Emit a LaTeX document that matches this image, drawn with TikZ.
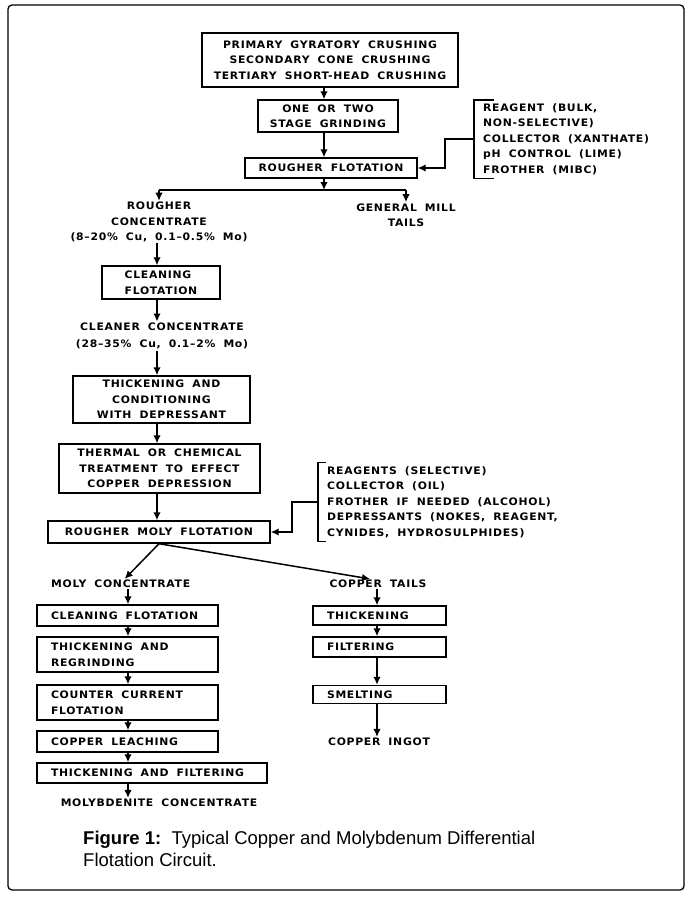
\documentclass[tikz,border=0pt]{standalone}
\usepackage{fontspec}
\setmainfont{Liberation Sans}
\newfontfamily\flowfont[FakeStretch=1.05,LetterSpace=7,WordSpace=1.8]{DejaVu Sans}
\newcommand\flowtext{\flowfont\bfseries\fontsize{10.3}{15.5}\selectfont}
\usetikzlibrary{arrows.meta,positioning}
\tikzset{
  >={Latex[length=8pt,width=7.5pt]},
  flow/.style={->,line width=1.5pt},
  box/.style={draw,line width=1.4pt,align=center,inner sep=0pt,font=\flowtext},
  lbox/.style={draw,line width=1.4pt,text width=#1,align=flush left,inner xsep=14pt,
    inner ysep=0pt,font=\flowtext},
  rbox/.style={lbox=105pt},
  tag/.style={align=center,inner sep=1pt,font=\flowtext},
  bracket/.style={line width=1.4pt},
}
\begin{document}
\begin{tikzpicture}[x=1pt,y=-1pt]
  \useasboundingbox (0,0) rectangle (694,897);
  \draw[line width=1.3pt,rounded corners=4pt] (8,5) rectangle (684,890);
  % grinding and bulk flotation
  \node[box,minimum width=256pt,minimum height=54pt] (crush) at (330,60)
    {PRIMARY GYRATORY CRUSHING\\SECONDARY CONE CRUSHING\\TERTIARY SHORT-HEAD CRUSHING};
  \node[box,minimum width=140pt,minimum height=32pt] (grind) at (328,116) {ONE OR TWO\\STAGE GRINDING};
  \node[box,minimum width=172pt,minimum height=20pt] (rough) at (331,168) {ROUGHER FLOTATION};
  \node[tag,align=left,anchor=west,minimum height=78pt,inner xsep=9pt] (reag) at (474,139)
    {REAGENT (BULK,\\NON-SELECTIVE)\\COLLECTOR (XANTHATE)\\pH CONTROL (LIME)\\FROTHER (MIBC)};
  \draw[bracket] ([xshift=20pt]reag.north west) -- (reag.north west) -- (reag.south west) -- ([xshift=20pt]reag.south west);
  \draw[flow] (reag.west) -- ++(-29,0) |- (rough.east);
  \coordinate (trunk) at (324,0);
  \coordinate (fork) at (324,190);
  \foreach \a/\b in {crush/grind,grind/rough}
    \draw[flow] (\a.south -| trunk) -- (\b.north -| trunk);
  \draw[flow] (rough.south -| trunk) -- (fork);
  \node[tag] (rconc) at (159,222) {ROUGHER\\CONCENTRATE\\(8–20\% Cu, 0.1–0.5\% Mo)};
  \node[tag] (tails) at (406,215) {GENERAL MILL\\TAILS};
  \draw[line width=1.5pt] (fork -| rconc) -- (fork -| tails);
  \draw[flow] (fork -| rconc) -- (rconc.north);
  \draw[flow] (fork -| tails) -- (tails.north);
  % copper-moly separation
  \node[box,align=left,minimum width=118pt,minimum height=33pt] (clean) at (161,282.5) {CLEANING\\FLOTATION};
  \node[tag] (cconc) at (162,336) {CLEANER CONCENTRATE\\[2pt](28–35\% Cu, 0.1–2\% Mo)};
  \node[box,minimum width=177pt,minimum height=47pt] (cond) at (161.5,399.5)
    {THICKENING AND\\CONDITIONING\\WITH DEPRESSANT};
  \node[box,minimum width=201pt,minimum height=49pt] (treat) at (159.5,468.5)
    {THERMAL OR CHEMICAL\\TREATMENT TO EFFECT\\COPPER DEPRESSION};
  \node[box,minimum width=222pt,minimum height=22pt] (rmoly) at (159,532) {ROUGHER MOLY FLOTATION};
  \node[tag,align=left,anchor=west,minimum height=79pt,inner xsep=9pt] (reag2) at (318,502)
    {REAGENTS (SELECTIVE)\\COLLECTOR (OIL)\\FROTHER IF NEEDED (ALCOHOL)\\DEPRESSANTS (NOKES, REAGENT,\\CYNIDES, HYDROSULPHIDES)};
  \draw[bracket] ([xshift=8pt]reag2.north west) -- (reag2.north west) -- (reag2.south west) -- ([xshift=8pt]reag2.south west);
  \draw[flow] (reag2.west) -- ++(-26,0) |- (rmoly.east);
  \coordinate (spine) at (157,0);
  \foreach \a/\b in {rconc/clean,clean/cconc,cconc/cond,cond/treat,treat/rmoly}
    \draw[flow] (\a.south -| spine) -- (\b.north -| spine);
  % moly circuit
  \node[tag,anchor=west] (mconc) at (50,584) {MOLY CONCENTRATE};
  \node[tag] (ctails) at (378,584) {COPPER TAILS};
  \draw[flow] (rmoly.south) -- ([xshift=4pt]mconc.north);
  \draw[flow] (rmoly.south) -- ([xshift=-8pt]ctails.north);
  \node[lbox=153pt,minimum height=21pt] (mclean) at (127.5,615.5) {CLEANING FLOTATION};
  \node[lbox=153pt,minimum height=35pt] (regrind) at (127.5,654.5) {THICKENING AND\\REGRINDING};
  \node[lbox=153pt,minimum height=35pt] (counter) at (127.5,702.5) {COUNTER CURRENT\\FLOTATION};
  \node[lbox=153pt,minimum height=21pt] (leach) at (127.5,741.5) {COPPER LEACHING};
  \node[lbox=202pt,minimum height=20pt] (thfil) at (152,773) {THICKENING AND FILTERING};
  \node[tag] (moly) at (159,803) {MOLYBDENITE CONCENTRATE};
  \coordinate (lcol) at (128,0);
  \foreach \a/\b in {mconc/mclean,mclean/regrind,regrind/counter,counter/leach,leach/thfil,thfil/moly}
    \draw[flow] (\a.south -| lcol) -- (\b.north -| lcol);
  % copper circuit
  \node[rbox,minimum height=19pt] (thick) at (379.5,615.5) {THICKENING};
  \node[rbox,minimum height=20pt] (filt) at (379.5,647) {FILTERING};
  \node[rbox,minimum height=18pt] (smelt) at (379.5,694.5) {SMELTING};
  \node[tag] (ingot) at (379,742) {COPPER INGOT};
  \coordinate (rcol) at (377,0);
  \foreach \a/\b in {ctails/thick,thick/filt,filt/smelt,smelt/ingot}
    \draw[flow] (\a.south -| rcol) -- (\b.north -| rcol);
  % caption
  \node[anchor=west,align=left,inner sep=0pt,font=\fontsize{18.5}{22}\selectfont] (cap) at (83,849)
    {\textbf{Figure 1:}\ \ Typical Copper and Molybdenum Differential\\Flotation Circuit.};
\end{tikzpicture}
\end{document}
